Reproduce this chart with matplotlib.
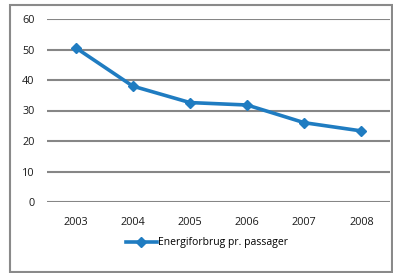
import matplotlib
matplotlib.use('Agg')
import matplotlib.pyplot as plt
from matplotlib.patches import Rectangle

years = ['2003', '2004', '2005', '2006', '2007', '2008']
energy = [50.6, 38.0, 32.6, 31.8, 26.0, 23.3]
series_label = 'Energiforbrug pr. passager'

plt.rcParams['font.family'] = ['Open Sans', 'DejaVu Sans']

fig = plt.figure(figsize=(3.93, 2.73), dpi=100)
ax = fig.add_axes([47 / 393, 1 - 202 / 273, 343 / 393, 183 / 273])

x = range(len(years))
ax.plot(x, energy, color='#1f7cc1', linewidth=2.6, marker='D', markersize=5.5,
        label=series_label, zorder=3)

ax.set_xlim(-0.5, len(years) - 0.5)
ax.set_ylim(0, 60)
ax.set_yticks(range(0, 61, 10))
ax.set_xticks(list(x))
ax.set_xticklabels(years)
ax.tick_params(length=0, labelsize=7.8, colors='#1a1a1a')
ax.tick_params(axis='y', pad=9)
ax.tick_params(axis='x', pad=11)
ax.grid(axis='y', color='#868686', linewidth=1.5)
ax.set_axisbelow(True)
for s in ax.spines.values():
    s.set_visible(False)

leg = fig.legend(loc='center', bbox_to_anchor=(207 / 393, 1 - 243 / 273), frameon=False,
                 fontsize=7.5, handlelength=3.0, handletextpad=0.15)

# outer chart border
fig.patches.append(Rectangle((10 / 393, 1 / 273), 382 / 393, 267 / 273, transform=fig.transFigure,
                             fill=False, edgecolor='#8a8a8a', linewidth=1.5))

fig.savefig('out.png', dpi=100)
